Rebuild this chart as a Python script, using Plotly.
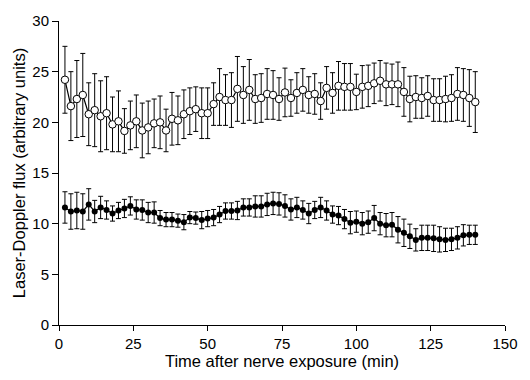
import plotly.graph_objects as go

time_min = list(range(2, 142, 2))

open_mean = [24.2, 21.6, 22.3, 22.7, 20.8, 21.2, 20.6, 20.9, 19.8, 20.1,
             19.15, 19.7, 20.1, 19.2, 19.5, 19.9, 20.0, 19.2, 20.35, 20.2,
             20.8, 21.1, 21.3, 20.9, 20.9, 21.8, 22.5, 22.2, 22.2, 23.3,
             22.7, 23.2, 22.3, 22.4, 22.8, 22.7, 22.3, 22.95, 22.4, 22.9,
             23.2, 22.7, 22.8, 22.1, 23.4, 22.9, 23.6, 23.5, 23.5, 23.0,
             23.5, 23.6, 23.85, 24.1, 23.75, 23.75, 23.75, 23.0, 22.3, 22.5,
             22.4, 22.6, 22.2, 22.2, 22.3, 22.4, 22.8, 22.7, 22.4, 22.0]
open_err = [3.3, 3.4, 3.8, 4.1, 3.1, 3.6, 3.5, 3.6, 2.7, 3.0,
            2.2, 2.4, 2.6, 2.7, 2.6, 2.4, 2.6, 2.1, 2.6, 2.4,
            2.4, 2.3, 2.2, 2.5, 2.5, 2.1, 2.8, 2.5, 2.7, 3.2,
            2.8, 3.0, 2.4, 2.4, 2.5, 2.4, 2.1, 2.4, 1.8, 2.0,
            2.1, 1.8, 2.0, 1.8, 2.1, 2.0, 2.4, 2.3, 2.3, 1.75,
            2.1, 2.05, 2.0, 2.0, 2.1, 2.0, 2.2, 2.4, 2.25, 2.1,
            2.0, 2.0, 2.1, 2.1, 2.25, 2.3, 2.6, 2.6, 2.8, 3.0]

filled_mean = [11.6, 11.2, 11.3, 11.2, 11.9, 11.2, 11.6, 11.35, 11.0, 11.3,
               11.5, 11.75, 11.4, 11.35, 11.1, 11.1, 10.55, 10.4, 10.4, 10.3,
               10.15, 10.6, 10.55, 10.35, 10.5, 10.6, 10.9, 11.25, 11.25, 11.3,
               11.6, 11.6, 11.7, 11.7, 11.9, 12.0, 11.95, 11.75, 11.4, 11.6,
               11.35, 11.0, 11.35, 11.6, 11.3, 10.9, 10.8, 10.45, 10.1, 10.2,
               10.0, 10.15, 10.55, 10.0, 9.85, 9.9, 9.4, 9.1, 8.75, 8.4,
               8.6, 8.6, 8.55, 8.45, 8.4, 8.45, 8.6, 8.85, 8.9, 8.9]
filled_err = [1.55, 1.75, 1.8, 1.75, 1.55, 1.1, 1.1, 0.9, 0.75, 0.8,
              0.9, 0.9, 0.95, 1.0, 1.0, 1.05, 0.75, 0.7, 0.7, 0.65,
              0.75, 0.6, 0.6, 0.85, 0.8, 0.8, 0.8, 0.8, 0.8, 0.9,
              0.85, 0.85, 1.05, 1.05, 1.1, 1.1, 1.1, 1.1, 1.05, 1.0,
              0.9, 1.0, 0.85, 1.0, 0.95, 0.85, 0.9, 0.95, 1.1, 1.05,
              1.1, 1.1, 1.25, 1.1, 1.15, 1.2, 1.3, 1.35, 1.2, 1.1,
              1.25, 1.25, 1.3, 1.25, 1.15, 1.1, 1.1, 1.05, 0.95, 0.95]

x_ticks = [0, 25, 50, 75, 100, 125, 150]
y_ticks = [0, 5, 10, 15, 20, 25, 30]

fig = go.Figure()
fig.add_trace(go.Scatter(
    x=time_min, y=filled_mean, mode="lines+markers",
    line=dict(color="black", width=1.2),
    marker=dict(symbol="circle", size=6, color="black"),
    error_y=dict(type="data", array=filled_err, visible=True,
                 color="black", thickness=1, width=2.5),
    cliponaxis=False, showlegend=False))
fig.add_trace(go.Scatter(
    x=time_min, y=open_mean, mode="lines+markers",
    line=dict(color="black", width=1.2),
    marker=dict(symbol="circle", size=7.5, color="white",
                line=dict(color="black", width=1)),
    error_y=dict(type="data", array=open_err, visible=True,
                 color="black", thickness=1, width=2.5),
    cliponaxis=False, showlegend=False))

axis_font = dict(family="Liberation Sans, Arial, sans-serif", size=15, color="black")
fig.update_layout(
    width=530, height=380,
    margin=dict(l=59, r=17, t=17, b=55),
    paper_bgcolor="white", plot_bgcolor="white",
    font=axis_font,
    xaxis=dict(range=[0, 150], tickvals=x_ticks, ticks="outside", ticklen=5,
               tickwidth=1, tickcolor="black", showline=True, linecolor="black",
               linewidth=1, showgrid=False, zeroline=False, tickfont=axis_font,
               title=dict(text="Time after nerve exposure (min)",
                          font=dict(family="Liberation Sans, Arial, sans-serif", size=16.5, color="black"),
                          standoff=4)),
    yaxis=dict(range=[0, 30], tickvals=y_ticks, ticks="outside", ticklen=6,
               tickwidth=1, tickcolor="black", showline=True, linecolor="black",
               linewidth=1, showgrid=False, zeroline=False, tickfont=axis_font,
               title=dict(text="Laser-Doppler flux (arbitrary units)",
                          font=dict(family="Liberation Sans, Arial, sans-serif", size=16.5, color="black"),
                          standoff=2)),
)
fig.write_html("out.html")
